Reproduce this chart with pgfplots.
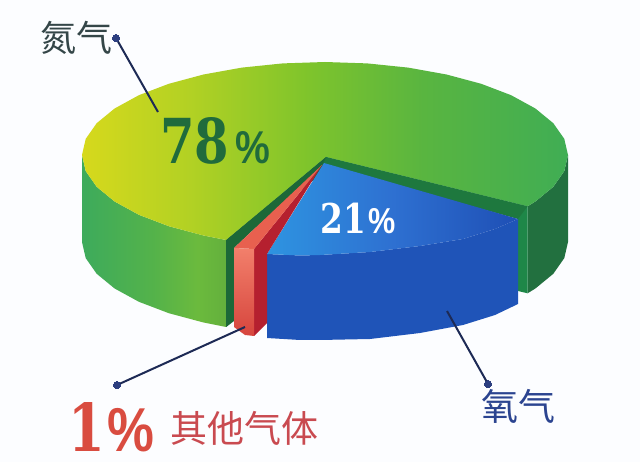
\documentclass[border=0pt]{standalone}
\usepackage{fontspec}
\usepackage{pgfplots}
\pgfplotsset{compat=1.18}
\newfontfamily\cjk{Noto Sans CJK SC}
\newfontfamily\heavy[UprightFont=* Bold, FakeStretch=0.8]{DejaVu Serif}
\newfontfamily\pct[UprightFont=* Bold, FakeStretch=0.85]{Liberation Sans}

\definecolor{bgcol}{HTML}{FCFDFF}
\definecolor{leader}{HTML}{1D2A55}
\definecolor{dotcol}{HTML}{2D3F80}

\pgfdeclarehorizontalshading{greentop}{100bp}{
  rgb(0bp)=(.84,.85,.11); rgb(25bp)=(.84,.85,.11); rgb(36bp)=(.70,.82,.14);
  rgb(48bp)=(.50,.77,.17); rgb(60bp)=(.35,.71,.25); rgb(75bp)=(.25,.68,.33); rgb(100bp)=(.25,.68,.33)}
\pgfdeclarehorizontalshading{greenside}{100bp}{
  rgb(0bp)=(.24,.67,.36); rgb(25bp)=(.24,.67,.36); rgb(50bp)=(.33,.70,.29);
  rgb(65bp)=(.42,.73,.24); rgb(75bp)=(.39,.69,.24); rgb(100bp)=(.39,.69,.24)}
\pgfdeclarehorizontalshading{bluetop}{100bp}{
  rgb(0bp)=(.18,.58,.88); rgb(25bp)=(.18,.58,.88); rgb(50bp)=(.18,.44,.82);
  rgb(75bp)=(.12,.31,.71); rgb(100bp)=(.12,.31,.71)}
\pgfdeclareverticalshading{redface}{100bp}{
  rgb(0bp)=(.84,.27,.24); rgb(25bp)=(.84,.27,.24); rgb(75bp)=(.95,.50,.42); rgb(100bp)=(.95,.50,.42)}

\begin{document}
\begin{tikzpicture}
\begin{axis}[
    scale only axis, width=640pt, height=462pt,
    xmin=0, xmax=640, ymin=0, ymax=462, y dir=reverse,
    axis line style={draw=none}, ticks=none,
    no markers,
    every axis plot/.append style={draw=none, line width=0pt, forget plot},
]
% background
\addplot[fill=bgcol] coordinates {(0,0) (640,0) (640,462) (0,462)} --cycle;

% nitrogen 78%, outer wall left
\addplot[shading=greenside] coordinates {
  (82,155) (85.7,171.1) (96.7,186.8) (114.6,201.5) (138.9,214.8) (168.8,226.2) (203.5,235.5) (226.2,240)
  (226.2,327) (203.5,322.5) (168.8,313.2) (138.9,301.8) (114.6,288.5) (96.7,273.8) (85.7,258.1) (82,242)
} --cycle;
% outer wall right
\addplot[fill={rgb,255:red,34;green,112;blue,63}] coordinates {
  (527.6,206.3) (535.4,201.5) (553.3,186.8) (564.3,171.1) (568,155)
  (568,242) (564.3,258.1) (553.3,273.8) (535.4,288.5) (527.6,293.3)
} --cycle;
% inner walls
\addplot[fill={rgb,255:red,30;green,135;blue,72}] coordinates {
  (326,157) (527.6,206.3) (527.6,293.3) (518,291) (518,212) (326,170)
} --cycle;
\addplot[fill={rgb,255:red,28;green,104;blue,56}] coordinates {
  (326,157) (226.2,240) (226.2,327) (234,321) (234,245) (326,170)
} --cycle;
% top face
\addplot[shading=greentop] coordinates {
  (326,157) (226.2,240) (203.5,235.5) (168.8,226.2) (138.9,214.8) (114.6,201.5) (96.7,186.8) (85.7,171.1)
  (82,155) (85.7,138.9) (96.7,123.2) (114.6,108.5) (138.9,95.2) (168.8,83.8) (203.5,74.5) (241.9,67.6)
  (282.8,63.4) (325,62) (367.2,63.4) (408.1,67.6) (446.5,74.5) (481.2,83.8) (511.1,95.2) (535.4,108.5)
  (553.3,123.2) (564.3,138.9) (568,155) (564.3,171.1) (553.3,186.8) (535.4,201.5) (527.6,206.3)
} --cycle;
% dark lip along the cut
\addplot[fill={rgb,255:red,30;green,120;blue,62}] coordinates {
  (326,157) (527.6,206.3) (518,219) (322,165)
} --cycle;
\addplot[fill={rgb,255:red,28;green,104;blue,56}] coordinates {
  (326,157) (226.2,240) (234,248) (322,165)
} --cycle;

% oxygen 21%
\addplot[fill={rgb,255:red,31;green,84;blue,184}] coordinates {
  (267,254) (300,255.5) (320,255) (370,252) (420,246) (463,239) (495,229) (518,219)
  (518,304) (495,315) (463,325) (420,333) (370,339) (320,340) (300,340) (267,338)
} --cycle;
\addplot[shading=bluetop] coordinates {
  (324,163) (267,254) (300,255.5) (320,255) (370,252) (420,246) (463,239) (495,229) (518,219)
} --cycle;

% other gases 1%
\addplot[fill={rgb,255:red,181;green,32;blue,47}] coordinates {
  (322,165) (254,249) (254,336) (267,323) (267,254)
} --cycle;
\addplot[fill={rgb,255:red,232;green,96;blue,79}] coordinates {
  (322,165) (234,248) (254,249)
} --cycle;
\addplot[shading=redface] coordinates {
  (234,248) (254,249) (254,336) (245,335) (234,327)
} --cycle;

% leader lines
\addplot[draw=leader, line width=2pt] coordinates {(158,112) (116,38)};
\addplot[draw=leader, line width=2pt] coordinates {(447,311) (488,384)};
\addplot[draw=leader, line width=2pt] coordinates {(245,327) (117,385)};
\addplot[only marks, mark=*, mark size=3.6pt, mark options={fill=dotcol, draw=dotcol}, draw=dotcol]
  coordinates {(116,38) (488,384) (117,385)};

% text
\node[anchor=center, inner sep=0pt, text={rgb,255:red,52;green,70;blue,72}] at (axis cs:76,38)
  {\cjk\fontsize{36}{36}\selectfont 氮气};
\node[anchor=center, inner sep=0pt, text={rgb,255:red,43;green,68;blue,144}] at (axis cs:518,406)
  {\cjk\fontsize{37}{37}\selectfont 氧气};
\node[anchor=center, inner sep=0pt, text={rgb,255:red,201;green,74;blue,80}] at (axis cs:244,428)
  {\cjk\fontsize{37}{37}\selectfont 其他气体};
\node[anchor=base west, inner sep=0pt, text={rgb,255:red,32;green,107;blue,60}] at (axis cs:160,164)
  {{\heavy\fontsize{62}{62}\selectfont 78}\hspace{6pt}{\pct\fontsize{46}{46}\selectfont\%}};
\node[anchor=base west, inner sep=0pt, text=white] at (axis cs:320,234)
  {{\heavy\fontsize{41}{41}\selectfont 21}\hspace{3pt}{\pct\fontsize{36}{36}\selectfont\%}};
\node[anchor=base west, inner sep=0pt, text={rgb,255:red,217;green,76;blue,64}] at (axis cs:68,451)
  {{\heavy\fontsize{66}{66}\selectfont 1}\hspace{3pt}{\pct\fontsize{62}{62}\selectfont\%}};
\end{axis}
\end{tikzpicture}
\end{document}
